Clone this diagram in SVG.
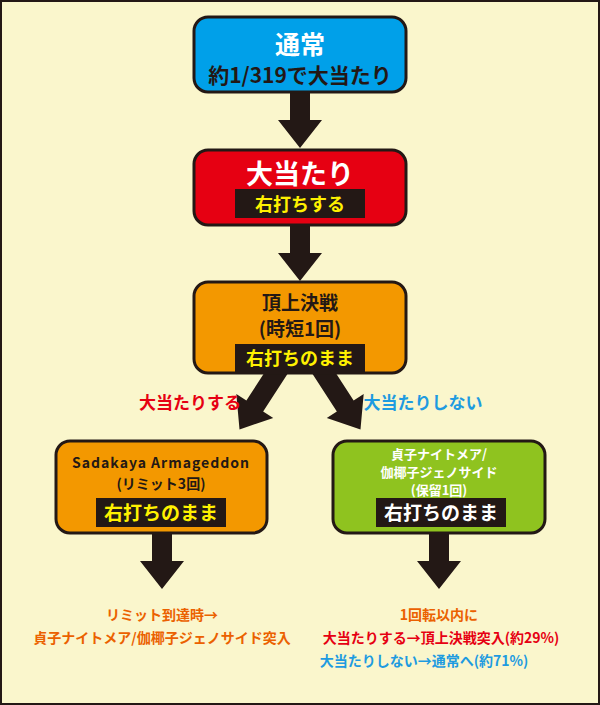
<svg xmlns="http://www.w3.org/2000/svg" width="600" height="705" viewBox="0 0 600 705">
<style>
.box{stroke:#231815;stroke-width:3}
.t{font-family:"Noto Sans CJK JP","Noto Sans",sans-serif;font-weight:bold;text-anchor:middle}
.lab{fill:#231815}
</style>
<defs>
<polygon id="dn" points="-10,0 10,0 10,28 22,28 0,56 -22,28 -10,28"/>
</defs>
<rect x="1" y="1" width="598" height="703" fill="#faf6cc" stroke="#231815" stroke-width="2"/>
<g id="connectors" fill="#231815">
<use href="#dn" x="300" y="92"/>
<use href="#dn" x="300" y="225"/>
<polygon points="-10,0 10,0 10,50 22,50 0,78 -22,50 -10,50" transform="translate(282,364) rotate(33)"/>
<polygon points="-10,0 10,0 10,50 22,50 0,78 -22,50 -10,50" transform="translate(318,364) rotate(-33)"/>
<use href="#dn" x="162" y="533"/>
<use href="#dn" x="439" y="533"/>
</g>
<g id="n1">
<rect class="box" x="194" y="17" width="212" height="75" rx="14" fill="#00a0e9"/>
<text class="t" x="300" y="54" font-size="25" fill="#fff">通常</text>
<text class="t" x="300" y="83" font-size="21" fill="#231815">約1/319で大当たり</text>
</g>
<g id="n2">
<rect class="box" x="194" y="150" width="212" height="75" rx="14" fill="#e60012"/>
<text class="t" x="300" y="184" font-size="27" fill="#fff">大当たり</text>
<rect class="lab" x="235" y="189" width="130" height="29"/>
<text class="t" x="300" y="211" font-size="18" fill="#fff100">右打ちする</text>
</g>
<g id="n3">
<rect class="box" x="194" y="282" width="212" height="91" rx="14" fill="#f39800"/>
<text class="t" x="300" y="310" font-size="19" fill="#231815">頂上決戦</text>
<text class="t" x="300" y="336" font-size="19" fill="#231815">(時短1回)</text>
<rect class="lab" x="235" y="344" width="130" height="28"/>
<text class="t" x="300" y="365" font-size="18" fill="#fff100">右打ちのまま</text>
</g>
<g id="lbls">
<text class="t" x="190" y="409" font-size="17" fill="#e60012">大当たりする</text>
<text class="t" x="423" y="409" font-size="17" fill="#1e9be0">大当たりしない</text>
</g>
<g id="n4">
<rect class="box" x="56" y="441" width="211" height="92" rx="14" fill="#f39800"/>
<text class="t" x="161" y="468" font-size="14" fill="#231815" letter-spacing="1">Sadakaya Armageddon</text>
<text class="t" x="161" y="489" font-size="14" fill="#231815">(リミット3回)</text>
<rect class="lab" x="96" y="498" width="130" height="29"/>
<text class="t" x="161" y="520" font-size="19" fill="#fff100">右打ちのまま</text>
</g>
<g id="n5">
<rect class="box" x="333" y="441" width="212" height="92" rx="14" fill="#8fc31f"/>
<text class="t" x="439" y="459" font-size="13" fill="#fff">貞子ナイトメア/</text>
<text class="t" x="439" y="477" font-size="13" fill="#fff">伽椰子ジェノサイド</text>
<text class="t" x="439" y="495" font-size="13" fill="#fff">(保留1回)</text>
<rect class="lab" x="376" y="498" width="130" height="29"/>
<text class="t" x="441" y="520" font-size="19" fill="#fff">右打ちのまま</text>
</g>
<g id="txt" font-size="14">
<text class="t" x="162" y="620" fill="#eb6100">リミット到達時→</text>
<text class="t" x="162" y="643" fill="#eb6100">貞子ナイトメア/伽椰子ジェノサイド突入</text>
<text class="t" x="439" y="620" fill="#eb6100">1回転以内に</text>
<text class="t" x="441" y="643" fill="#e60012">大当たりする→頂上決戦突入(約29%)</text>
<text class="t" x="424" y="666" fill="#1e9be0">大当たりしない→通常へ(約71%)</text>
</g>
</svg>
